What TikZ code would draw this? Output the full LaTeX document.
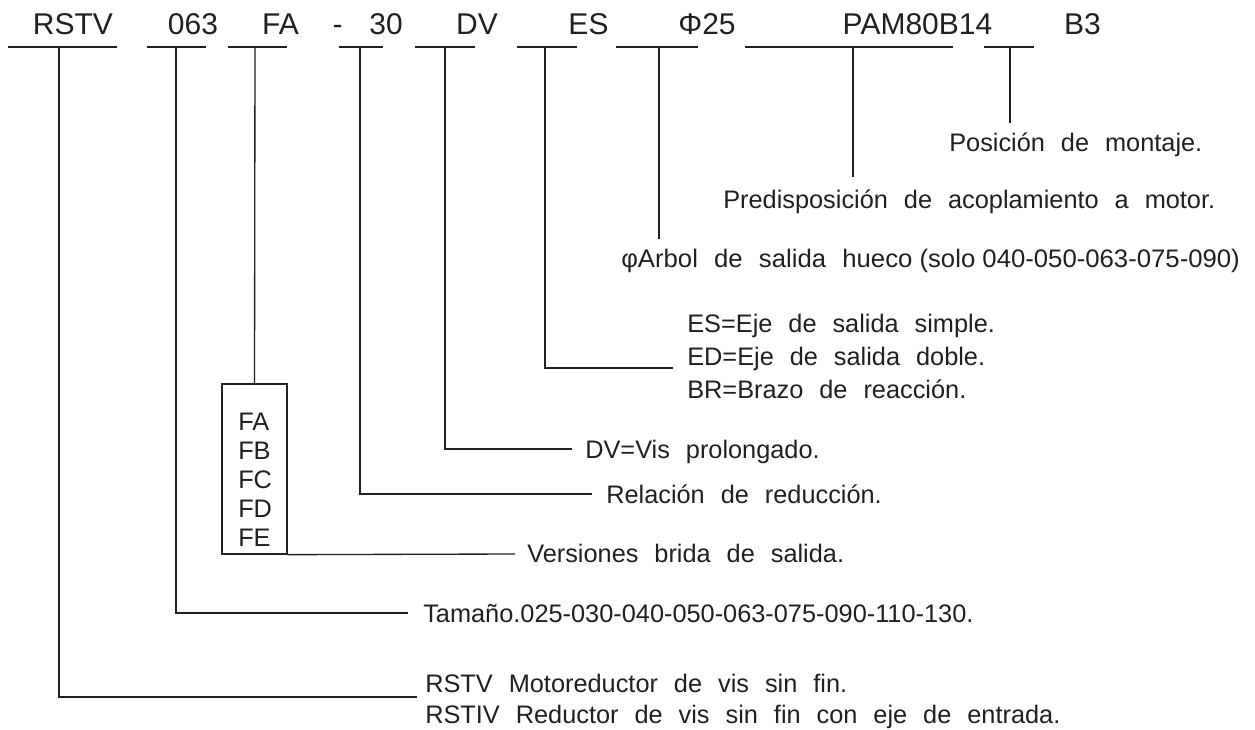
\documentclass[tikz,border=0pt]{standalone}
\usepackage{fontspec}
\setmainfont{Liberation Sans}
\usepackage{graphicx}
\definecolor{ink}{HTML}{231F20}
\newcommand\codefont{\fontsize{22.5}{27}\selectfont}
\newcommand\descfont{\fontsize{19}{23}\selectfont\spaceskip=0.63em\relax}

\begin{document}
\begin{tikzpicture}[
    x=0.75pt, y=-0.75pt,
    code/.style={font=\codefont, text=ink, inner sep=0pt, anchor=base},
    desc/.style={font=\descfont, text=ink, inner sep=0pt, anchor=base west},
    bar/.style={draw=ink, line width=2pt},
    leader/.style={draw=ink, line width=1pt},
    flangebox/.style={draw=ink, line width=1pt, minimum width=48.75pt, minimum height=127.5pt, inner sep=0pt}
]
\useasboundingbox (0,0) rectangle (1255,730);

% Designation code
\foreach \name/\txt/\cx/\l/\r/\tap in {
    rstv/RSTV/73/8/117/59,
    size/063/193/147/206/176,
    flange/FA/280.5/228/287/255,
    ratio/30/386/339/383/360,
    dv/DV/477/415/475/445,
    shaft/ES/588.5/517/577/545,
    bore/Φ25/707/616/698/659,
    motor/PAM80B14/917.5/745/953/853,
    mount/B3/1082.5/984/1034/1010} {
    \node[code] (\name) at (\cx,35) {\txt};
    \draw[bar] (\l,47) -- (\r,47);
    \coordinate (t\name) at (\tap,47);
}
\node[code] (dash) at (337.5,35) {-};

% Descriptions
\node[desc] (mountTxt) at (949,152) {Posición de montaje.};
\node[desc] (motorTxt) at (723,209) {Predisposición de acoplamiento a motor.};
\node[desc] (boreTxt) at (621,268) {\resizebox{464pt}{\height}{φArbol de salida hueco{\spaceskip=0pt\relax{} (solo 040-050-063-075-090)}}};
\node[desc] (esTxt) at (687,333) {ES=Eje de salida simple.};
\node[desc] (edTxt) at (687,366) {ED=Eje de salida doble.};
\node[desc] (brTxt) at (687,398) {BR=Brazo de reacción.};
\node[desc] (dvTxt) at (585,458) {DV=Vis prolongado.};
\node[desc] (ratioTxt) at (606,503) {Relación de reducción.};
\node[desc] (flangeTxt) at (527,562) {Versiones brida de salida.};
\node[desc] (sizeTxt) at (423,622) {Tamaño.025-030-040-050-063-075-090-110-130.};
\node[desc] (rstvTxt) at (425,692) {RSTV Motoreductor de vis sin fin.};
\node[desc] (rstivTxt) at (425,723) {RSTIV Reductor de vis sin fin con eje de entrada.};

% Flange versions
\node[flangebox] (flanges) at (254.5,469) {};
\foreach \f [count=\i] in {FA,FB,FC,FD,FE} {
    \node[desc] (f\f) at (238,401+29*\i) {\f};
}

% Leaders
\coordinate (emount) at (1010,123);
\coordinate (emotor) at (853,177);
\coordinate (ebore) at (659,239);
\coordinate (eshaft) at (673,368);
\coordinate (edv) at (572,449);
\coordinate (eratio) at (592,494);
\coordinate (eflange) at (515,554);
\coordinate (esize) at (408,613);
\coordinate (erstv) at (417,697);

\draw[leader] (tmount) -- (emount);
\draw[leader] (tmotor) -- (emotor);
\draw[leader] (tbore) -- (ebore);
\draw[leader] (tshaft) |- (eshaft);
\draw[leader] (tdv) |- (edv);
\draw[leader] (tratio) |- (eratio);
\draw[leader] (tflange) -- (flanges.north);
\draw[leader] (flanges.south east) -- (eflange);
\draw[leader] (tsize) |- (esize);
\draw[leader] (trstv) |- (erstv);

\end{tikzpicture}
\end{document}
